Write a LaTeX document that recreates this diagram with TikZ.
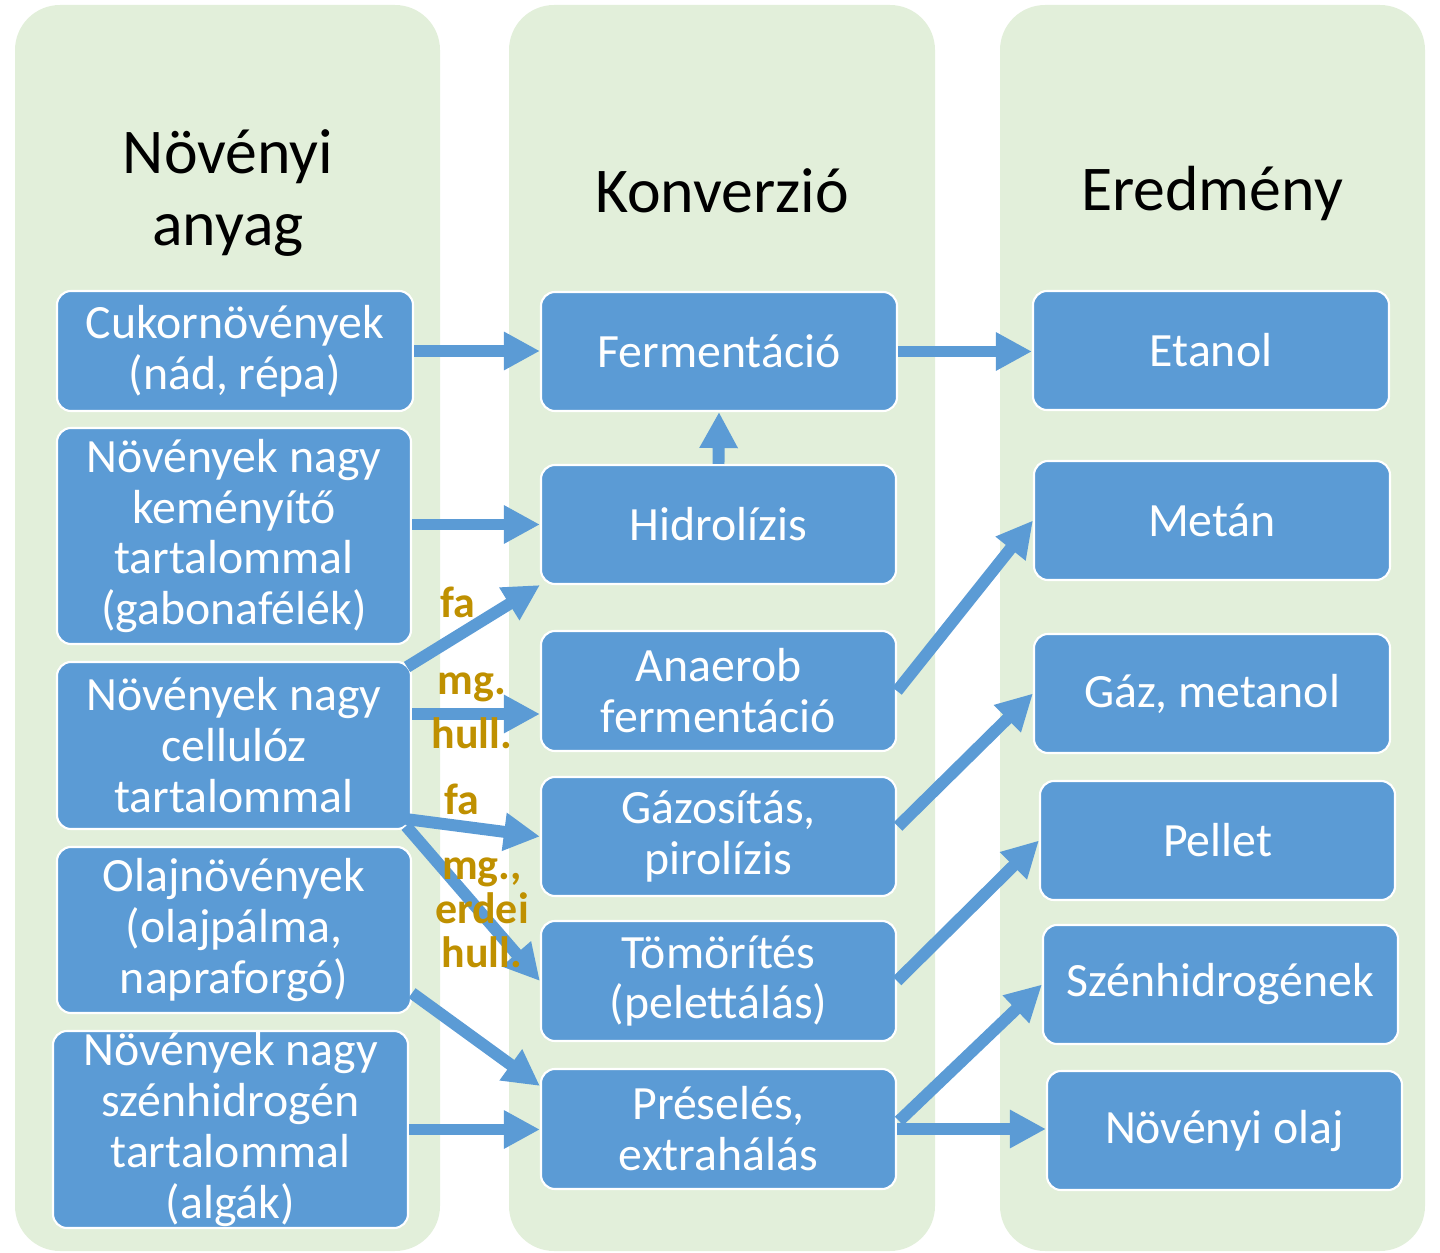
\documentclass[tikz,border=0pt]{standalone}
\usepackage{fontspec}
\setmainfont{Carlito}
\usetikzlibrary{arrows.meta,calc}
\definecolor{colbg}{RGB}{226,239,218}
\definecolor{boxblue}{RGB}{91,155,213}
\definecolor{lblgold}{RGB}{191,144,0}
\newcommand\bx[6]{\node[box, minimum width={(#4-#2)*0.02cm}, minimum height={(#5-#3)*0.02cm}] (#1) at ({(#2+#4)/2},{(#3+#5)/2}) {#6};}
\begin{document}
\begin{tikzpicture}[x=0.02cm,y=-0.02cm,
  box/.style={fill=boxblue, draw=white, line width=1.2pt, rounded corners=0.28cm, text=white, align=center, inner sep=0pt, font=\fontsize{27.2}{29}\selectfont},
  ttl/.style={text=black, align=center, font=\fontsize{36.3}{40.5}\selectfont},
  lbl/.style={text=lblgold, align=center, inner sep=0pt, font=\bfseries\fontsize{25}{25}\selectfont},
  arr/.style={draw=boxblue, line width=6.8pt, -{Triangle[length=20.5pt,width=20.5pt]}}]
\useasboundingbox (0,0) rectangle (1440,1253);
% columns
\fill[colbg, rounded corners=0.9cm] (15,5) rectangle (440,1251);
\fill[colbg, rounded corners=0.9cm] (509,5) rectangle (935,1251);
\fill[colbg, rounded corners=0.9cm] (1000,5) rectangle (1425,1251);
% titles
\node[ttl] (t1) at (228,193) {Növényi\\anyag};
\node[ttl] (t2) at (722,191) {Konverzió};
\node[ttl] (t3) at (1212,193) {Eredmény};
% left boxes
\bx{cukor}{57}{291}{413}{411}{Cukornövények\\(nád, répa)}
\bx{kem}{57}{428}{411}{644}{Növények nagy\\keményítő\\tartalommal\\(gabonafélék)}
\bx{cell}{57}{662}{411}{829}{Növények nagy\\cellulóz\\tartalommal}
\bx{olajn}{57}{847}{411}{1013}{Olajnövények\\(olajpálma,\\napraforgó)}
\bx{szhn}{53}{1031}{408}{1228}{Növények nagy\\szénhidrogén\\tartalommal\\(algák)}
% middle boxes
\bx{ferm}{541}{292}{897}{411}{Fermentáció}
\bx{hidro}{541}{465}{896}{584}{Hidrolízis}
\bx{anaer}{541}{631}{896}{751}{Anaerob\\fermentáció}
\bx{gazos}{541}{777}{896}{896}{Gázosítás,\\pirolízis}
\bx{tom}{541}{921}{896}{1041}{Tömörítés\\(pelettálás)}
\bx{pres}{541}{1069}{896}{1189}{Préselés,\\extrahálás}
% right boxes
\bx{etanol}{1033}{291}{1389}{410}{Etanol}
\bx{metan}{1034}{461}{1390}{580}{Metán}
\bx{gazmet}{1034}{634}{1390}{753}{Gáz, metanol}
\bx{pellet}{1040}{781}{1395}{900}{Pellet}
\bx{szh}{1043}{925}{1398}{1044}{Szénhidrogének}
\bx{nolaj}{1047}{1071}{1402}{1190}{Növényi olaj}
% helper coordinates
\coordinate (a1) at ($(anaer.west)+(0,23)$);
\coordinate (c1) at ($(cell.north east)+(-5,6)$);
\coordinate (c2) at ($(cell.south east)+(-6,-11)$);
\coordinate (c3) at ($(cell.south east)+(-6,-4)$);
\coordinate (o1) at ($(olajn.south east)+(0,-21)$);
\coordinate (p1) at ($(pres.north west)+(0,18)$);
\coordinate (p2) at ($(pres.east)+(2,-8)$);
\coordinate (g1) at ($(gazos.east)+(1,-10)$);
% arrows
\draw[arr] (cukor.east) -- (cukor.east -| ferm.west);
\draw[arr] (ferm.east) -- (ferm.east -| etanol.west);
\draw[arr] (hidro.north) -- (ferm.south);
\draw[arr] (hidro.west -| kem.east) -- (hidro.west);
\draw[arr] (c1) -- (hidro.south west);
\draw[arr] (cell.east |- a1) -- (a1);
\draw[arr] (c2) -- (gazos.west);
\draw[arr] (c3) -- (tom.west);
\draw[arr] (o1) -- (p1);
\draw[arr] (szhn.east) -- (szhn.east -| pres.west);
\draw[arr] (anaer.east) -- (metan.west);
\draw[arr] (g1) -- (gazmet.west);
\draw[arr] (tom.east) -- (pellet.west);
\draw[arr] (p2) -- (szh.west);
\draw[arr] (pres.east) -- (pres.east -| nolaj.west);
% labels
\node[lbl] (l1) at (458,602) {fa};
\node[lbl, font=\bfseries\fontsize{25}{31}\selectfont] (l2) at (472,711) {mg.\\hull.};
\node[lbl] (l3) at (462,799) {fa};
\node[lbl] (l4) at (482,913) {mg.,\\erdei\\hull.};
\end{tikzpicture}
\end{document}
